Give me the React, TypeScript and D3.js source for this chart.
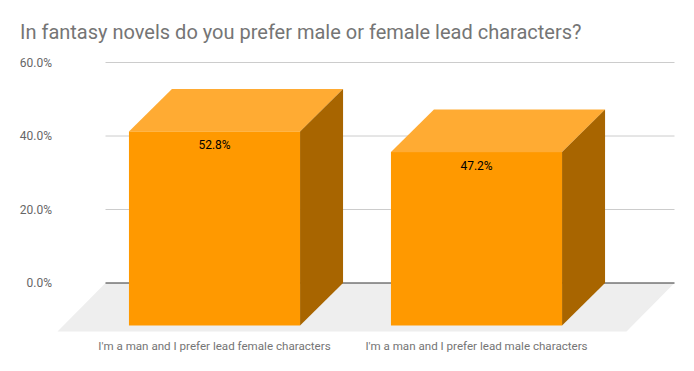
import React from 'react';
import * as d3 from 'd3';

const categories = [
  "I'm a man and I prefer lead female characters",
  "I'm a man and I prefer lead male characters",
];
const percentages = [52.8, 47.2];
const tickValues = [0, 20, 40, 60];

const W = 694;
const H = 371;
// depth of the 3d effect (back plane -> front plane)
const barDx = 43;
const barDy = 42.5;
const floorDx = 48;
const floorDy = 48.5;

const App = () => {
  // scales on the back plane
  const y = d3.scaleLinear().domain([0, 60]).range([283, 62.5]);
  const x = d3
    .scaleBand<string>()
    .domain(categories)
    .range([126.5, 650.5])
    .paddingInner(0.347)
    .paddingOuter(0.1735);

  const gridLeft = 105.5;
  const gridRight = 674.5;
  const base = y(0);
  const fmt = (v: number) => v.toFixed(1) + '%';
  const font = 'Roboto, "Noto Sans", sans-serif';

  const floor = [
    [gridLeft, base],
    [gridRight, base],
    [gridRight - floorDx, base + floorDy],
    [gridLeft - floorDx, base + floorDy],
  ];

  return (
    <div style={{ position: 'fixed', left: 0, top: 0 }}>
      <svg width={W} height={H} style={{ display: 'block', background: '#fff' }}>
        <text x={20} y={38.5} fontFamily={font} fontSize={20} fill="#757575">
          In fantasy novels do you prefer male or female lead characters?
        </text>

        {tickValues.map((t) => (
          <g key={t}>
            {t !== 0 && (
              <line x1={gridLeft} x2={gridRight} y1={y(t)} y2={y(t)} stroke="#cccccc" strokeWidth={1} />
            )}
            <text
              x={52}
              y={y(t)}
              dy="0.35em"
              textAnchor="end"
              fontFamily={font}
              fontSize={12}
              fill="#666666"
            >
              {fmt(t)}
            </text>
          </g>
        ))}

        <polygon points={floor.map((p) => p.join(',')).join(' ')} fill="#eeeeee" />
        <line x1={gridLeft} x2={gridRight} y1={base} y2={base} stroke="#333333" strokeWidth={1} />

        {categories.map((c, i) => {
          const bx0 = x(c)!;
          const bx1 = bx0 + x.bandwidth();
          const by = y(percentages[i]);
          const fx0 = bx0 - barDx;
          const fx1 = bx1 - barDx;
          const fTop = by + barDy;
          const fBot = base + barDy;
          const top = [
            [bx0, by],
            [bx1, by],
            [fx1, fTop],
            [fx0, fTop],
          ];
          const side = [
            [bx1, by],
            [bx1, base],
            [fx1, fBot],
            [fx1, fTop],
          ];
          const cx = (fx0 + fx1) / 2;
          return (
            <g key={c}>
              <polygon points={top.map((p) => p.join(',')).join(' ')} fill="#ffab33" />
              <polygon points={side.map((p) => p.join(',')).join(' ')} fill="#a86500" />
              <rect x={fx0} y={fTop} width={fx1 - fx0} height={fBot - fTop} fill="#ff9900" />
              <text
                x={cx}
                y={fTop + 17.5}
                textAnchor="middle"
                fontFamily={font}
                fontSize={12}
                fill="#000000"
              >
                {fmt(percentages[i])}
              </text>
              <text
                x={cx}
                y={349.5}
                textAnchor="middle"
                fontFamily={font}
                fontSize={11.6}
                fill="#757575"
              >
                {c}
              </text>
            </g>
          );
        })}
      </svg>
    </div>
  );
};

export default App;
